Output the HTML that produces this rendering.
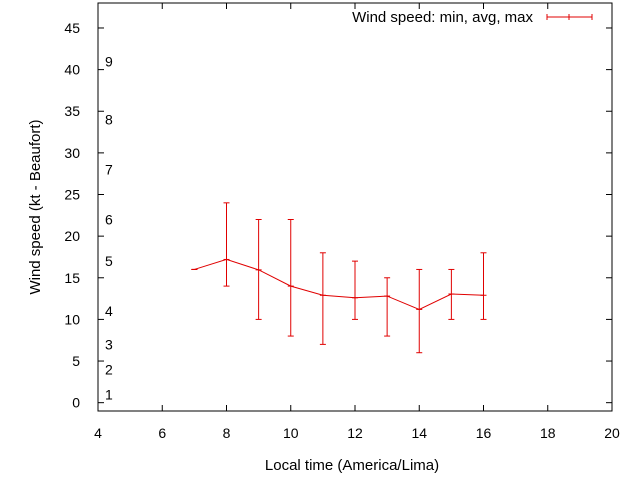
<!DOCTYPE html>
<html><head><meta charset="utf-8"><style>
body{margin:0;background:#fff}
svg{display:block;font-family:"Liberation Sans",sans-serif}
</style></head><body>
<svg id="c" width="640" height="480" xmlns="http://www.w3.org/2000/svg">
<rect width="640" height="480" fill="#fff"/>
<g id="axes"></g>
<g id="marks"></g>
<text x="533" y="22" font-size="15" text-anchor="end">Wind speed: min, avg, max</text>
<g stroke="#e00000" stroke-width="1">
<line x1="547" y1="17" x2="592" y2="17"/><line x1="547" y1="14" x2="547" y2="20"/><line x1="592" y1="14" x2="592" y2="20"/><line x1="569" y1="14" x2="569" y2="20"/>
</g>
<text x="352" y="470" font-size="15" text-anchor="middle">Local time (America/Lima)</text>
<text transform="translate(40,207) rotate(-90)" font-size="15" text-anchor="middle">Wind speed (kt - Beaufort)</text>
</svg>
<script>
const hours=[7,8,9,10,11,12,13,14,15,16];
const avgSpeed=[16,17.2,15.95,14,12.9,12.6,12.8,11.2,13.05,12.9];
const minSpeed=[16,14,10,8,7,10,8,6,10,10];
const maxSpeed=[16,24,22,22,18,17,15,16,16,18];
const xTicks=[4,6,8,10,12,14,16,18,20];
const yTicks=[0,5,10,15,20,25,30,35,40,45];
const beaufortLabels=["1","2","3","4","5","6","7","8","9"];
const beaufortPos=[1,4,7,11,17,22,28,34,41];
const L=98,R=612,T=3,B=411,xmin=4,xmax=20,ymin=-1,ymax=48;
const X=v=>L+(v-xmin)/(xmax-xmin)*(R-L);
const Y=v=>B-(v-ymin)/(ymax-ymin)*(B-T);
const NS="http://www.w3.org/2000/svg";
function mk(p,t,a){const e=document.createElementNS(NS,t);for(const k in a)e.setAttribute(k,a[k]);p.appendChild(e);return e;}
const ax=document.getElementById('axes'),mg=document.getElementById('marks');
const fr=mk(ax,'rect',{x:L,y:T,width:R-L,height:B-T,fill:'none',stroke:'#000','stroke-width':1});


xTicks.forEach(v=>{const x=X(v);
mk(ax,'line',{x1:x,y1:B,x2:x,y2:B-6,stroke:'#000'});mk(ax,'line',{x1:x,y1:T,x2:x,y2:T+6,stroke:'#000'});
const t=mk(ax,'text',{x:x,y:B+27,'font-size':14,'text-anchor':'middle'});t.textContent=v;

});
yTicks.forEach(v=>{const y=Y(v);
mk(ax,'line',{x1:L,y1:y,x2:L+6,y2:y,stroke:'#000'});mk(ax,'line',{x1:R,y1:y,x2:R-6,y2:y,stroke:'#000'});
const t=mk(ax,'text',{x:80,y:y+5,'font-size':14,'text-anchor':'end'});t.textContent=v;

});
beaufortLabels.forEach((s,i)=>{const t=mk(ax,'text',{x:105,y:Y(beaufortPos[i])+5,'font-size':14});t.textContent=s;

});
const red='#e00000';
hours.forEach((h,i)=>{const x=X(h);
const g=mk(mg,'g',{stroke:red,'stroke-width':1});


mk(g,'line',{x1:x,y1:Y(minSpeed[i]),x2:x,y2:Y(maxSpeed[i])});
mk(g,'line',{x1:x-3,y1:Y(minSpeed[i]),x2:x+3,y2:Y(minSpeed[i])});
mk(g,'line',{x1:x-3,y1:Y(maxSpeed[i]),x2:x+3,y2:Y(maxSpeed[i])});
mk(g,'line',{x1:x-3,y1:Y(avgSpeed[i]),x2:x+3,y2:Y(avgSpeed[i])});});
const pl=mk(mg,'polyline',{points:hours.map((h,i)=>X(h)+','+Y(avgSpeed[i])).join(' '),fill:'none',stroke:red,'stroke-width':1});


</script>
</body></html>
